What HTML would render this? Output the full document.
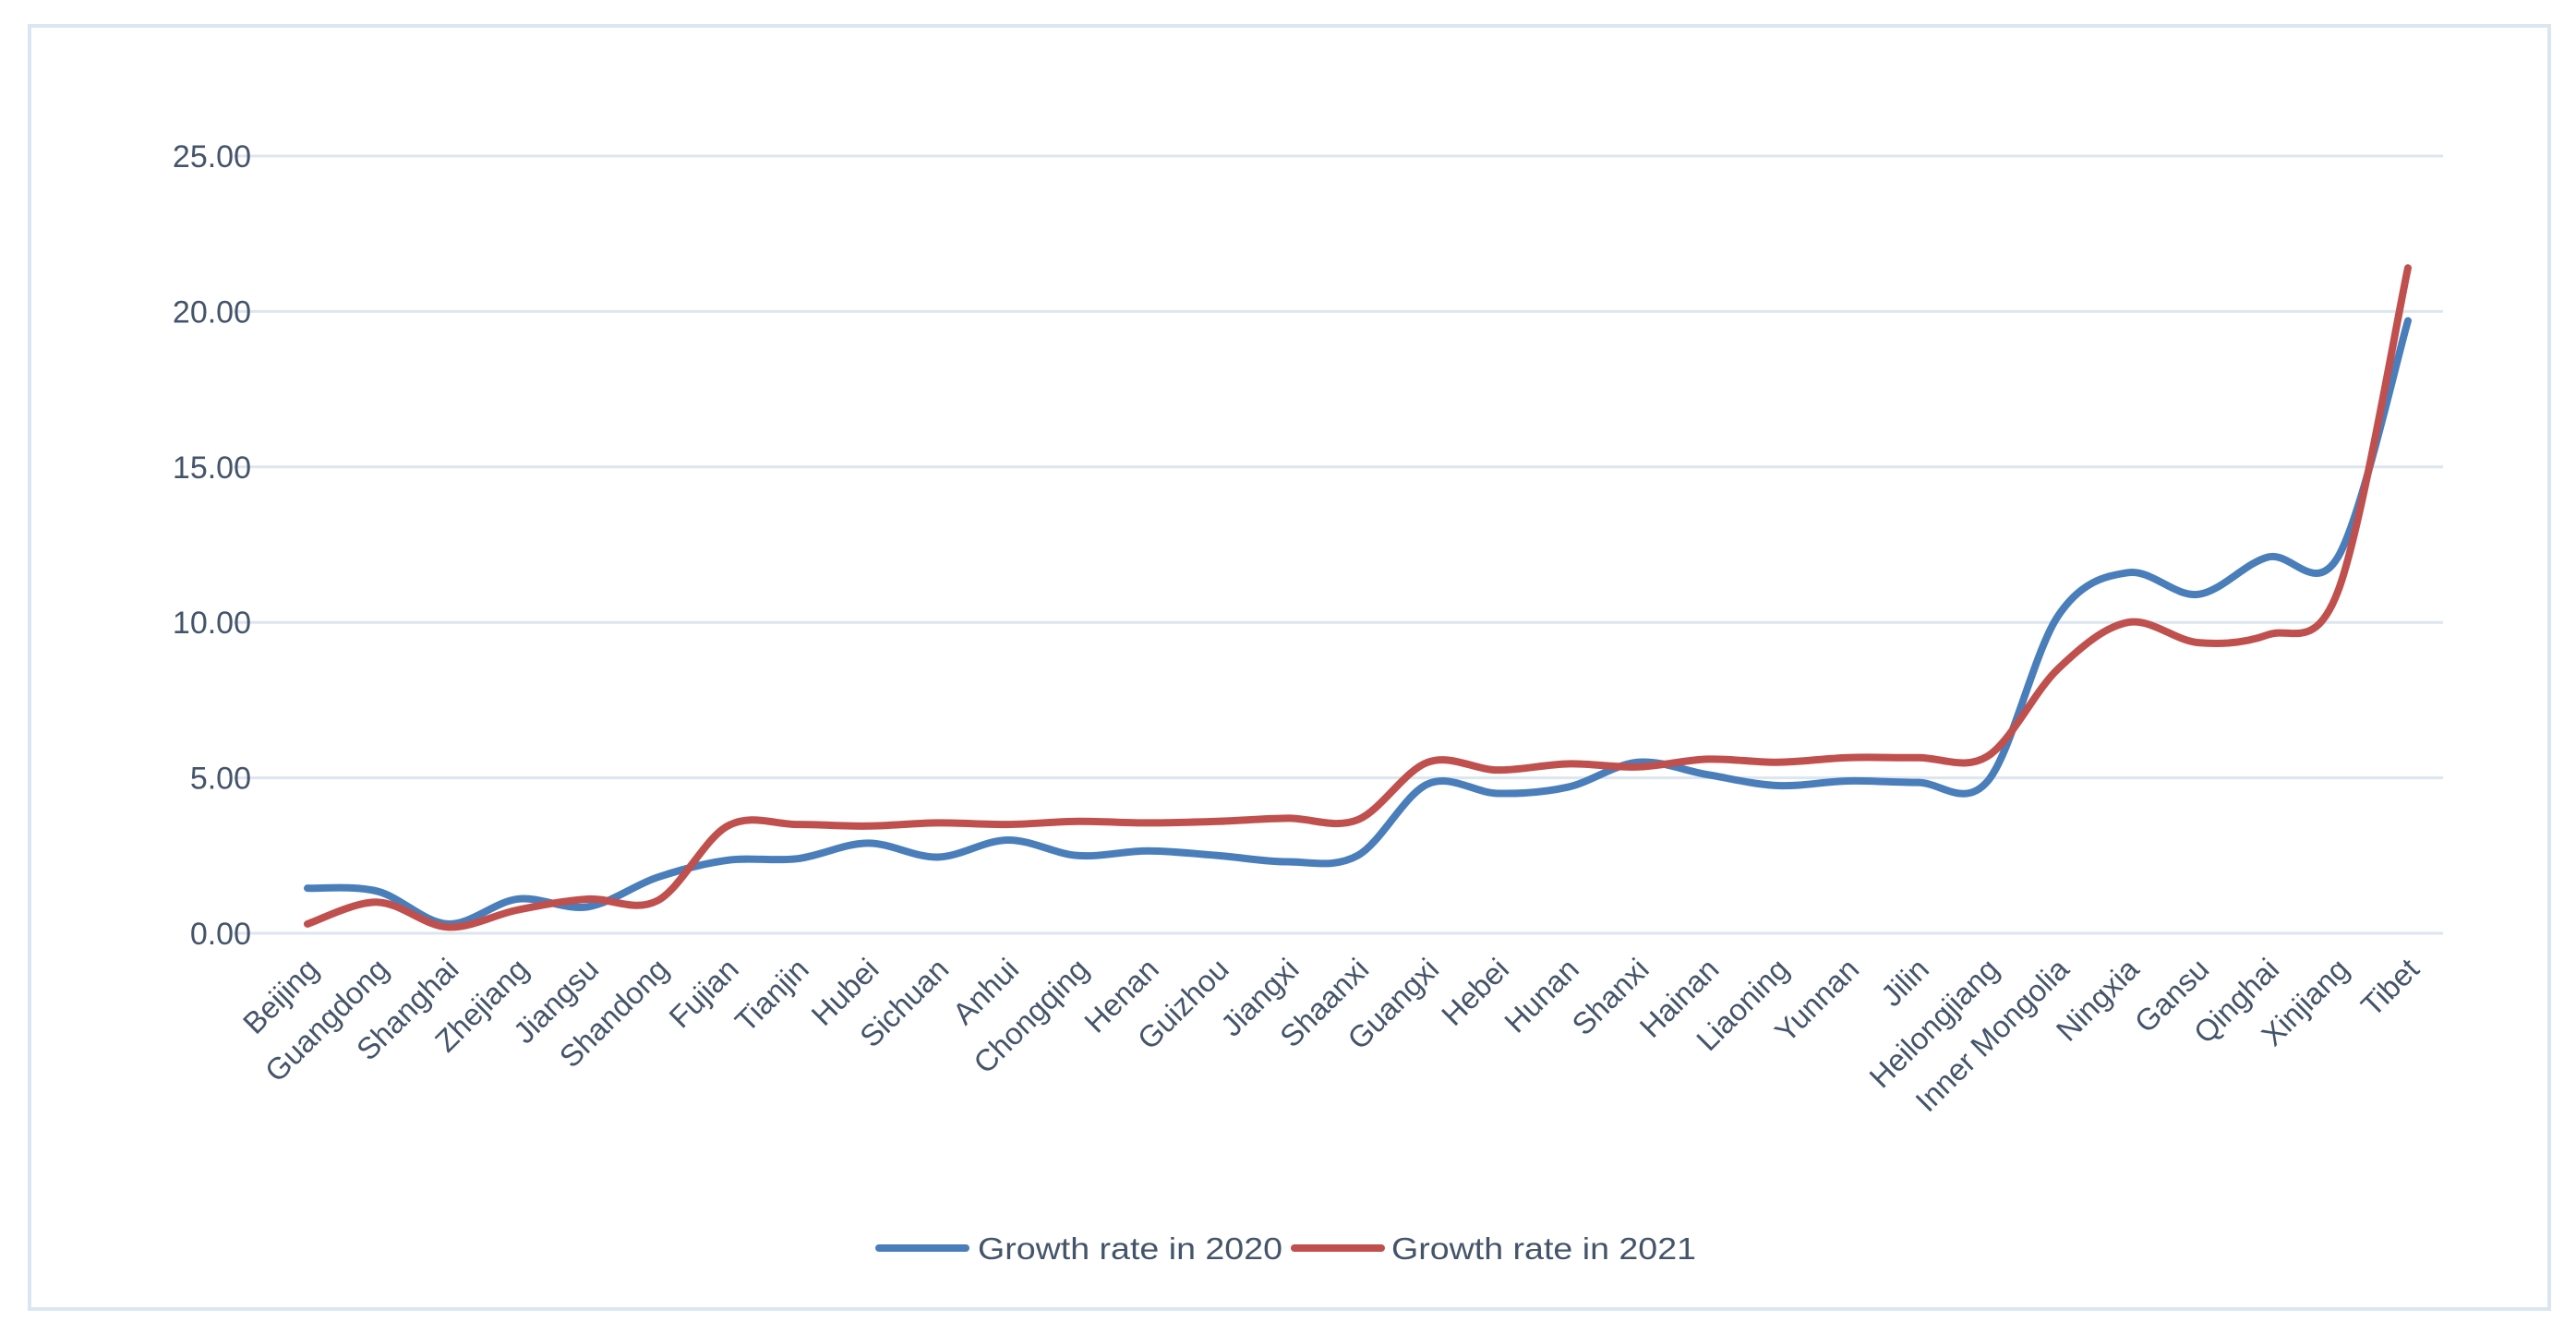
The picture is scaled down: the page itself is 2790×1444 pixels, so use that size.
<!DOCTYPE html>
<html><head><meta charset="utf-8"><style>
body{margin:0;background:#fff;}
svg{display:block;font-family:"Liberation Sans",sans-serif;}
</style></head><body>
<svg id="chart" width="2790" height="1444" viewBox="0 0 2790 1444">
<rect x="32" y="28" width="2729" height="1390" fill="#fff" stroke="#dce6f2" stroke-width="4"/>
<g id="grid"></g><g id="ylabels"></g><g id="xlabels"></g><g id="series"></g>
<g>
<line x1="952" y1="1352" x2="1046" y2="1352" stroke="#4a7ebb" stroke-width="8" stroke-linecap="round"/>
<text x="1059" y="1364" font-size="33" fill="#44546a" textLength="330" lengthAdjust="spacingAndGlyphs">Growth rate in 2020</text>
<line x1="1402" y1="1352" x2="1496" y2="1352" stroke="#c0504d" stroke-width="8" stroke-linecap="round"/>
<text x="1507" y="1364" font-size="33" fill="#44546a" textLength="330" lengthAdjust="spacingAndGlyphs">Growth rate in 2021</text>
</g>
</svg>
<script>
const categories=["Beijing","Guangdong","Shanghai","Zhejiang","Jiangsu","Shandong","Fujian","Tianjin","Hubei","Sichuan","Anhui","Chongqing","Henan","Guizhou","Jiangxi","Shaanxi","Guangxi","Hebei","Hunan","Shanxi","Hainan","Liaoning","Yunnan","Jilin","Heilongjiang","Inner Mongolia","Ningxia","Gansu","Qinghai","Xinjiang","Tibet"];
const growth2020=[1.45,1.35,0.3,1.1,0.85,1.8,2.35,2.4,2.9,2.45,3.0,2.5,2.65,2.5,2.3,2.5,4.8,4.5,4.7,5.5,5.1,4.75,4.9,4.85,4.9,10.2,11.6,10.9,12.1,12.1,19.7];
const growth2021=[0.3,1.0,0.2,0.75,1.1,1.05,3.45,3.5,3.45,3.55,3.5,3.6,3.55,3.6,3.7,3.65,5.5,5.25,5.45,5.35,5.6,5.5,5.65,5.65,5.7,8.5,10.0,9.35,9.6,11.0,21.4];
const yTicks=[0,5,10,15,20,25];
const yTickLabels=["0.00","5.00","10.00","15.00","20.00","25.00"];
const NS="http://www.w3.org/2000/svg";
const y0=1011,pxPerUnit=(1011-169)/25;
function yScale(v){return y0-v*pxPerUnit;}
const x0=333,x1=2608;
function xScale(i){return x0+i*(x1-x0)/(categories.length-1);}
const grid=document.getElementById('grid'),yl=document.getElementById('ylabels'),xl=document.getElementById('xlabels'),ser=document.getElementById('series');
yTicks.forEach((t,i)=>{
 const l=document.createElementNS(NS,'line');
 
 
 l.setAttribute('x1',253);l.setAttribute('x2',2646);l.setAttribute('y1',yScale(t));l.setAttribute('y2',yScale(t));
 l.setAttribute('stroke','#dde5ef');l.setAttribute('stroke-width','3');grid.appendChild(l);
 const tx=document.createElementNS(NS,'text');
 
 
 tx.setAttribute('x',272);tx.setAttribute('y',yScale(t)+12);tx.setAttribute('text-anchor','end');
 tx.setAttribute('font-size','34');tx.setAttribute('fill','#44546a');tx.textContent=yTickLabels[i];yl.appendChild(tx);
});
categories.forEach((c,i)=>{
 const tx=document.createElementNS(NS,'text');
 
 
 const x=xScale(i)+14,y=1052;
 tx.setAttribute('x',x);tx.setAttribute('y',y);tx.setAttribute('text-anchor','end');
 tx.setAttribute('transform','rotate(-45 '+x+' '+y+')');
 tx.setAttribute('font-size','33');tx.setAttribute('fill','#44546a');tx.textContent=c;xl.appendChild(tx);
});
function smooth(vals){
 const p=vals.map((v,i)=>[xScale(i),yScale(v)]);
 let d='M'+p[0][0]+' '+p[0][1];
 for(let i=0;i<p.length-1;i++){
  const a=p[Math.max(0,i-1)],b=p[i],c=p[i+1],e=p[Math.min(p.length-1,i+2)],k=1/6;
  d+=' C'+(b[0]+(c[0]-a[0])*k)+' '+(b[1]+(c[1]-a[1])*k)+' '+(c[0]-(e[0]-b[0])*k)+' '+(c[1]-(e[1]-b[1])*k)+' '+c[0]+' '+c[1];
 }
 return d;
}
[[growth2020,'#4a7ebb','line-2020'],[growth2021,'#c0504d','line-2021']].forEach(s=>{
 const p=document.createElementNS(NS,'path');
 
 
 p.setAttribute('d',smooth(s[0]));p.setAttribute('fill','none');p.setAttribute('stroke',s[1]);
 p.setAttribute('stroke-width','8');p.setAttribute('stroke-linecap','round');p.setAttribute('stroke-linejoin','round');
 ser.appendChild(p);
});
</script>
</body></html>
